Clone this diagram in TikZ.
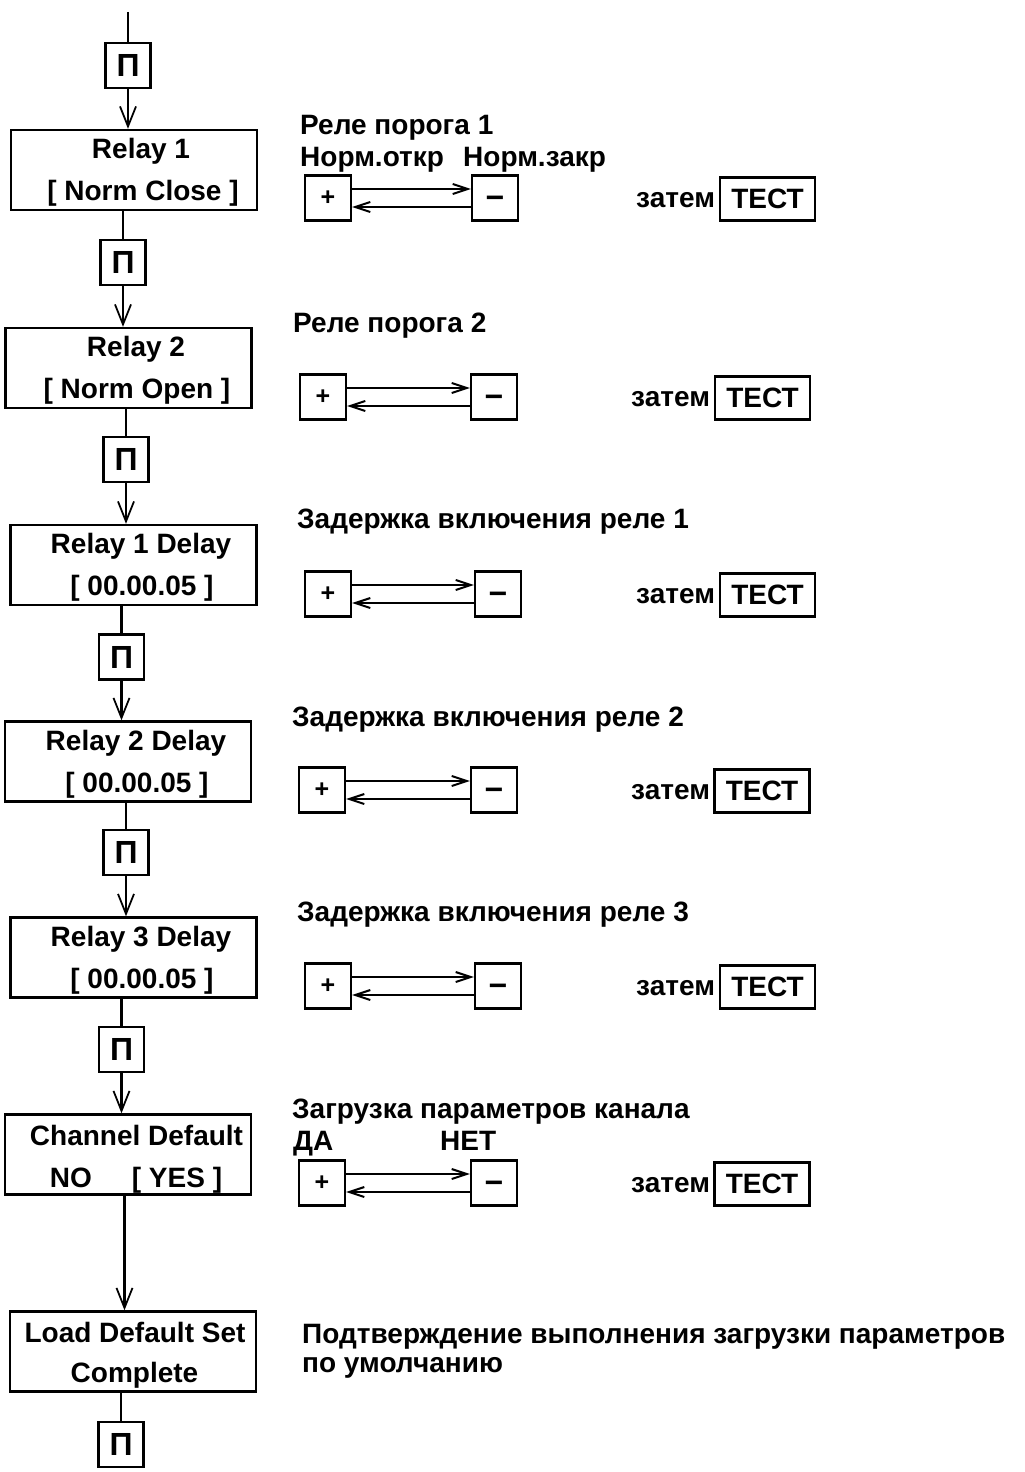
\documentclass[tikz,border=0pt]{standalone}
\usepackage{fontspec}
\setmainfont{Liberation Sans}
\usetikzlibrary{arrows.meta}
\begin{document}
\begin{tikzpicture}[x=1pt,y=-1pt,
  bx/.style={draw,line width=2.3pt,inner sep=0pt},
  mainbox/.style={bx,minimum width=246pt,minimum height=80pt},
  pbox/.style={bx,minimum width=45pt,minimum height=45pt,font=\bfseries\fontsize{32}{34}\selectfont},
  keybox/.style={bx,minimum width=46pt,minimum height=45pt,font=\bfseries\fontsize{25}{27}\selectfont},
  minusbox/.style={bx,minimum width=46pt,minimum height=45pt,font=\bfseries\fontsize{32}{34}\selectfont},
  testbox/.style={bx,minimum width=95pt,minimum height=43pt,font=\bfseries\fontsize{28}{32}\selectfont},
  txt/.style={inner sep=0pt,anchor=base west,font=\bfseries\fontsize{28}{32}\selectfont},
  ctxt/.style={inner sep=0pt,anchor=base,font=\bfseries\fontsize{28}{32}\selectfont},
  link/.style={line width=2.3pt},
  arr/.style={line width=2.3pt,-{Straight Barb[length=20pt,width=16pt,line width=1.8pt]}},
  harr/.style={line width=2pt,-{Straight Barb[length=15pt,width=10pt]}}
]
\useasboundingbox (0,0) rectangle (1025,1472);

% ---- main column ----
\coordinate (top) at (128,12);
\node[pbox] (P0) at (128,65.5) {П};
\node[mainbox] (R1) at (134,170) {};
\node[ctxt] (R1a) at (141,158) {Relay 1};
\node[ctxt] (R1b) at (143,200) {[ Norm Close ]};

\node[pbox] (P1) at (123,262.5) {П};
\node[mainbox] (R2) at (128.5,368) {};
\node[ctxt] (R2a) at (136,356) {Relay 2};
\node[ctxt] (R2b) at (137,398) {[ Norm Open ]};

\node[pbox] (P2) at (126,459.5) {П};
\node[mainbox] (R3) at (133.5,565) {};
\node[ctxt] (R3a) at (141,553) {Relay 1 Delay};
\node[ctxt] (R3b) at (142,595) {[ 00.00.05 ]};

\node[pbox] (P3) at (121.5,657) {П};
\node[mainbox] (R4) at (128,761.5) {};
\node[ctxt] (R4a) at (136,750) {Relay 2 Delay};
\node[ctxt] (R4b) at (137,792) {[ 00.00.05 ]};

\node[pbox] (P4) at (126,852.5) {П};
\node[mainbox] (R5) at (133.5,957.5) {};
\node[ctxt] (R5a) at (141,946) {Relay 3 Delay};
\node[ctxt] (R5b) at (142,988) {[ 00.00.05 ]};

\node[pbox] (P5) at (121.5,1049.5) {П};
\node[mainbox] (R6) at (128,1154.5) {};
\node[ctxt] (R6a) at (136.5,1145) {Channel Default};
\node[ctxt] (R6b) at (136,1187) {NO\hspace{40pt}[ YES ]};

\node[mainbox] (R7) at (133,1351.5) {};
\node[ctxt] (R7a) at (135,1342) {Load Default Set};
\node[ctxt] (R7b) at (134.5,1382) {Complete};

\node[pbox] (P6) at (121,1444.5) {П};

\draw[link] (top) -- (P0.north);
\draw[arr] (P0.south) -- (P0.south |- R1.north);
\draw[link] (P1.north |- R1.south) -- (P1.north);
\draw[arr] (P1.south) -- (P1.south |- R2.north);
\draw[link] (P2.north |- R2.south) -- (P2.north);
\draw[arr] (P2.south) -- (P2.south |- R3.north);
\draw[link] (P3.north |- R3.south) -- (P3.north);
\draw[arr] (P3.south) -- (P3.south |- R4.north);
\draw[link] (P4.north |- R4.south) -- (P4.north);
\draw[arr] (P4.south) -- (P4.south |- R5.north);
\draw[link] (P5.north |- R5.south) -- (P5.north);
\draw[arr] (P5.south) -- (P5.south |- R6.north);
\coordinate (c6) at (124.5,0);
\draw[arr] (c6 |- R6.south) -- (c6 |- R7.north);
\draw[link] (P6.north |- R7.south) -- (P6.north);

% ---- right side ----
\foreach \i/\px/\mx/\cy/\zx/\tx in {1/328/495/198/636/767.5,2/323/494/397/631/762.5,3/328/498/594/636/767.5,4/322/494/790/631/762,5/328/498/986/636/767.5,6/322/494/1183/631/762}{
  \node[keybox] (plus\i) at (\px,\cy) {+};
  \node[minusbox] (minus\i) at (\mx,\cy) {\raisebox{-0.32em}[0pt][0pt]{−}};
  \draw[harr] ([yshift=9pt]plus\i.east) -- ([yshift=9pt]plus\i.east -| minus\i.west);
  \draw[harr] ([yshift=-9pt]minus\i.west) -- ([yshift=-9pt]minus\i.west -| plus\i.east);
  \node[txt] (then\i) at (\zx,\cy+9) {затем};
  \node[testbox] (test\i) at (\tx,\cy+1) {ТЕСТ};
}

\node[txt] (t1) at (300,134) {Реле порога 1};
\node[txt] (t1a) at (300,166) {Норм.откр};
\node[txt] (t1b) at (463,166) {Норм.закр};
\node[txt] (t2) at (293,332) {Реле порога 2};
\node[txt] (t3) at (297,528) {Задержка включения реле 1};
\node[txt] (t4) at (292,726) {Задержка включения реле 2};
\node[txt] (t5) at (297,921) {Задержка включения реле 3};
\node[txt] (t6) at (292,1118) {Загрузка параметров канала};
\node[txt] (t6a) at (293,1150) {ДА};
\node[txt] (t6b) at (440,1150) {НЕТ};
\node[txt] (t7) at (302,1343) {Подтверждение выполнения загрузки параметров};
\node[txt] (t7a) at (302,1372) {по умолчанию};
\end{tikzpicture}
\end{document}
